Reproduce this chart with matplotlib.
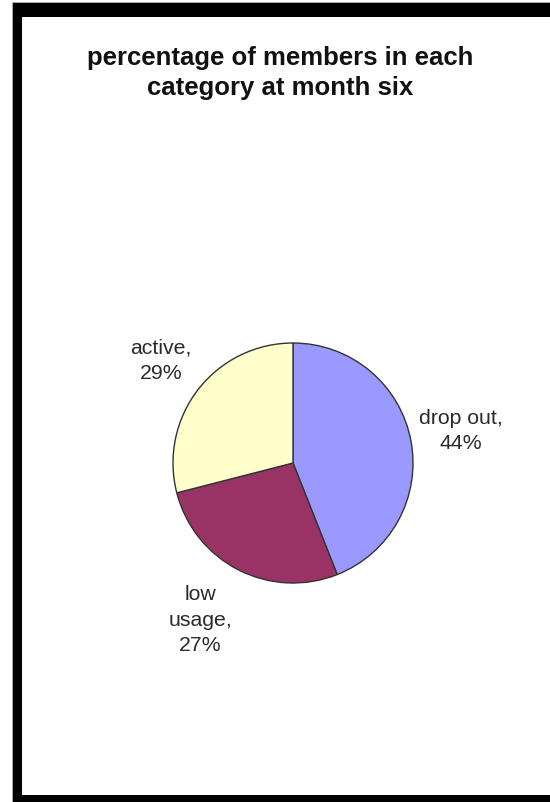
import numpy as np
import matplotlib
matplotlib.use('Agg')
import matplotlib.pyplot as plt
from matplotlib.patches import Rectangle

# data
categories = ['drop out', 'low usage', 'active']
label_text = ['drop out,\n44%', 'low\nusage,\n27%', 'active,\n29%']
shares = [44, 27, 29]
colors = ['#9999FF', '#993366', '#FFFFCC']
label_dist = [1.42, 1.52, 1.39]
label_turn = [0.0, -3.5, 0.0]  # degrees, nudges label off the wedge middle

W, H = 550, 802
fig = plt.figure(figsize=(W / 100, H / 100), dpi=100)
fig.patch.set_facecolor('white')


def px_rect(x0, y0, w, h, c, z):
    fig.add_artist(Rectangle((x0 / W, 1 - (y0 + h) / H), w / W, h / H,
                             transform=fig.transFigure, color=c, lw=0, zorder=z))


# frame (left, top, bottom; right side is cropped off), thin grey rim outside
px_rect(12, 2, 538, 800, '#aaaaaa', -3)
px_rect(13, 3, 537, 799, 'black', -2)
px_rect(22, 17, 528, 778, 'white', -1)

# pie: centre (293, 463) px, radius 120 px
cx, cy, r = 293, 463, 120
half = 200
ax = fig.add_axes([(cx - half) / W, (H - cy - half) / H, 2 * half / W, 2 * half / H])
ax.patch.set_visible(False)
wedges, _ = ax.pie(shares, colors=colors, startangle=90, counterclock=False,
                   radius=1.0, wedgeprops=dict(edgecolor='#333333', linewidth=1.0))
lim = half / r
ax.set_xlim(-lim, lim)
ax.set_ylim(-lim, lim)
ax.set_aspect('equal')
ax.axis('off')

for w, txt, d, t in zip(wedges, label_text, label_dist, label_turn):
    ang = np.deg2rad((w.theta1 + w.theta2) / 2 + t)
    ax.text(d * np.cos(ang), d * np.sin(ang), txt, ha='center', va='center',
            fontsize=15.3, family='Liberation Sans', color='#2a2a2a',
            linespacing=1.42)

fig.text(280 / W, 1 - 73 / H, 'percentage of members in each\ncategory at month six',
         ha='center', va='center', fontsize=18.5, fontweight='bold',
         family='Liberation Sans', color='#111111', linespacing=1.3)

fig.savefig('out.png', dpi=100)
